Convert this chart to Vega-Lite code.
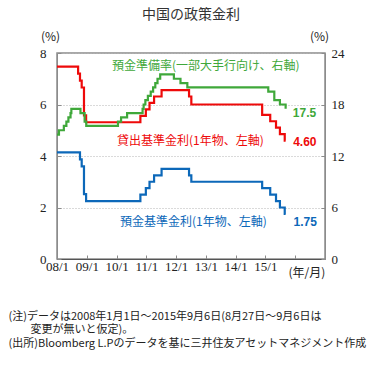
{
  "$schema": "https://vega.github.io/schema/vega-lite/v6.json",
  "width": 268,
  "height": 206,
  "autosize": {"type": "none"},
  "padding": {"left": 57, "top": 53, "right": 59, "bottom": 108},
  "background": "white",
  "title": {"text": "中国の政策金利", "font": "Noto Sans CJK JP", "fontSize": 14, "fontWeight": "normal", "color": "#333333", "anchor": "middle", "frame": "group", "offset": 8},
  "config": {"view": {"stroke": "#8c8c8c", "strokeWidth": 1.5}},
  "datasets": {
    "rates": [
      {"date": "2008/01/01", "series": "貸出基準金利", "value": 7.47},
      {"date": "2008/09/16", "series": "貸出基準金利", "value": 7.20},
      {"date": "2008/10/09", "series": "貸出基準金利", "value": 6.93},
      {"date": "2008/10/30", "series": "貸出基準金利", "value": 6.66},
      {"date": "2008/11/27", "series": "貸出基準金利", "value": 5.58},
      {"date": "2008/12/23", "series": "貸出基準金利", "value": 5.31},
      {"date": "2010/10/20", "series": "貸出基準金利", "value": 5.56},
      {"date": "2010/12/26", "series": "貸出基準金利", "value": 5.81},
      {"date": "2011/02/09", "series": "貸出基準金利", "value": 6.06},
      {"date": "2011/04/06", "series": "貸出基準金利", "value": 6.31},
      {"date": "2011/07/07", "series": "貸出基準金利", "value": 6.56},
      {"date": "2012/06/08", "series": "貸出基準金利", "value": 6.31},
      {"date": "2012/07/06", "series": "貸出基準金利", "value": 6.00},
      {"date": "2014/11/22", "series": "貸出基準金利", "value": 5.60},
      {"date": "2015/03/01", "series": "貸出基準金利", "value": 5.35},
      {"date": "2015/05/11", "series": "貸出基準金利", "value": 5.10},
      {"date": "2015/06/28", "series": "貸出基準金利", "value": 4.85},
      {"date": "2015/08/26", "series": "貸出基準金利", "value": 4.60},
      {"date": "2015/09/06", "series": "貸出基準金利", "value": 4.60},
      {"date": "2008/01/01", "series": "預金基準金利", "value": 4.14},
      {"date": "2008/10/09", "series": "預金基準金利", "value": 3.87},
      {"date": "2008/10/30", "series": "預金基準金利", "value": 3.60},
      {"date": "2008/11/27", "series": "預金基準金利", "value": 2.52},
      {"date": "2008/12/23", "series": "預金基準金利", "value": 2.25},
      {"date": "2010/10/20", "series": "預金基準金利", "value": 2.50},
      {"date": "2010/12/26", "series": "預金基準金利", "value": 2.75},
      {"date": "2011/02/09", "series": "預金基準金利", "value": 3.00},
      {"date": "2011/04/06", "series": "預金基準金利", "value": 3.25},
      {"date": "2011/07/07", "series": "預金基準金利", "value": 3.50},
      {"date": "2012/06/08", "series": "預金基準金利", "value": 3.25},
      {"date": "2012/07/06", "series": "預金基準金利", "value": 3.00},
      {"date": "2014/11/22", "series": "預金基準金利", "value": 2.75},
      {"date": "2015/03/01", "series": "預金基準金利", "value": 2.50},
      {"date": "2015/05/11", "series": "預金基準金利", "value": 2.25},
      {"date": "2015/06/28", "series": "預金基準金利", "value": 2.00},
      {"date": "2015/08/26", "series": "預金基準金利", "value": 1.75},
      {"date": "2015/09/06", "series": "預金基準金利", "value": 1.75}
    ],
    "rrr": [
      {"date": "2008/01/01", "series": "預金準備率", "value": 14.5},
      {"date": "2008/01/25", "series": "預金準備率", "value": 15.0},
      {"date": "2008/03/25", "series": "預金準備率", "value": 15.5},
      {"date": "2008/04/25", "series": "預金準備率", "value": 16.0},
      {"date": "2008/05/20", "series": "預金準備率", "value": 16.5},
      {"date": "2008/06/15", "series": "預金準備率", "value": 17.0},
      {"date": "2008/06/25", "series": "預金準備率", "value": 17.5},
      {"date": "2008/10/15", "series": "預金準備率", "value": 17.0},
      {"date": "2008/12/05", "series": "預金準備率", "value": 16.0},
      {"date": "2008/12/25", "series": "預金準備率", "value": 15.5},
      {"date": "2010/01/18", "series": "預金準備率", "value": 16.0},
      {"date": "2010/02/25", "series": "預金準備率", "value": 16.5},
      {"date": "2010/05/10", "series": "預金準備率", "value": 17.0},
      {"date": "2010/11/16", "series": "預金準備率", "value": 17.5},
      {"date": "2010/11/29", "series": "預金準備率", "value": 18.0},
      {"date": "2010/12/20", "series": "預金準備率", "value": 18.5},
      {"date": "2011/01/20", "series": "預金準備率", "value": 19.0},
      {"date": "2011/02/24", "series": "預金準備率", "value": 19.5},
      {"date": "2011/03/25", "series": "預金準備率", "value": 20.0},
      {"date": "2011/04/21", "series": "預金準備率", "value": 20.5},
      {"date": "2011/05/18", "series": "預金準備率", "value": 21.0},
      {"date": "2011/06/20", "series": "預金準備率", "value": 21.5},
      {"date": "2011/12/05", "series": "預金準備率", "value": 21.0},
      {"date": "2012/02/24", "series": "預金準備率", "value": 20.5},
      {"date": "2012/05/18", "series": "預金準備率", "value": 20.0},
      {"date": "2015/02/05", "series": "預金準備率", "value": 19.5},
      {"date": "2015/04/20", "series": "預金準備率", "value": 18.5},
      {"date": "2015/06/28", "series": "預金準備率", "value": 18.0},
      {"date": "2015/09/06", "series": "預金準備率", "value": 17.5}
    ],
    "labels": [
      {"date": "2010/01/06", "value": 4.6, "label": "貸出基準金利(1年物、左軸)", "series": "貸出基準金利", "kind": "name", "axis": "left"},
      {"date": "2015/12/07", "value": 4.53, "label": "4.60", "series": "貸出基準金利", "kind": "value", "axis": "left"},
      {"date": "2010/02/12", "value": 1.45, "label": "預金基準金利(1年物、左軸)", "series": "預金基準金利", "kind": "name", "axis": "left"},
      {"date": "2015/12/11", "value": 1.45, "label": "1.75", "series": "預金基準金利", "kind": "value", "axis": "left"},
      {"date": "2009/11/06", "value": 22.5, "label": "預金準備率(一部大手行向け、右軸)", "series": "預金準備率", "kind": "name", "axis": "right"},
      {"date": "2015/12/03", "value": 16.96, "label": "17.5", "series": "預金準備率", "kind": "value", "axis": "right"},
      {"date": "2016/05/24", "value": -0.53, "label": "(年/月)", "series": "unit", "kind": "unit", "axis": "left"}
    ]
  },
  "encoding": {
    "x": {
      "field": "date",
      "type": "temporal",
      "scale": {"domain": [{"year": 2008, "month": 1, "date": 1}, {"year": 2017, "month": 1, "date": 1}]},
      "axis": {
        "values": [
          {"year": 2008, "month": 1, "date": 1}, {"year": 2009, "month": 1, "date": 1}, {"year": 2010, "month": 1, "date": 1},
          {"year": 2011, "month": 1, "date": 1}, {"year": 2012, "month": 1, "date": 1}, {"year": 2013, "month": 1, "date": 1},
          {"year": 2014, "month": 1, "date": 1}, {"year": 2015, "month": 1, "date": 1}, {"year": 2016, "month": 1, "date": 1}
        ],
        "labelExpr": "year(datum.value) < 2016 ? timeFormat(datum.value, '%y/%-m') : ''",
        "labelFont": "Liberation Sans Narrow",
        "labelFontSize": 13,
        "labelColor": "#222222",
        "labelPadding": 5,
        "labelFlush": false,
        "labelOverlap": false,
        "grid": false,
        "domainColor": "#555555",
        "tickColor": "#8c8c8c",
        "tickSize": -4,
        "title": ["(注)データは2008年1月1日～2015年9月6日(8月27日～9月6日は", "\u200b\u3000\u3000変更が無いと仮定)。", "(出所)Bloomberg L.Pのデータを基に三井住友アセットマネジメント作成"],
        "titleFont": "Noto Sans CJK JP",
        "titleFontSize": 11,
        "titleFontWeight": "normal",
        "titleColor": "#222222",
        "titleAngle": 0,
        "titleAlign": "left",
        "titleBaseline": "top",
        "titleX": -49,
        "titleY": 51,
        "titleLineHeight": 13.5
      }
    },
    "color": {
      "field": "series",
      "type": "nominal",
      "scale": {"domain": ["預金準備率", "貸出基準金利", "預金基準金利", "unit"], "range": ["#3fa83a", "#ee0a0a", "#0c68b9", "#222222"]},
      "legend": null
    }
  },
  "layer": [
    {
      "encoding": {
        "y": {
          "field": "value",
          "type": "quantitative",
          "scale": {"domain": [0, 8]},
          "axis": {
            "orient": "left",
            "values": [0, 2, 4, 6, 8],
            "grid": true,
            "gridColor": "#b4b4b4",
            "gridDash": [1, 2],
            "domainColor": "#8c8c8c",
            "tickColor": "#8c8c8c",
            "tickSize": -4,
            "labelFont": "Liberation Sans Narrow",
            "labelFontSize": 13,
            "labelColor": "#222222",
            "labelPadding": 15,
            "title": "(%)",
            "titleFont": "Noto Sans CJK JP",
            "titleFontSize": 12,
            "titleFontWeight": "normal",
            "titleColor": "#222222",
            "titleAngle": 0,
            "titleAlign": "center",
            "titleBaseline": "middle",
            "titleX": -7,
            "titleY": -17
          }
        }
      },
      "layer": [
        {
          "data": {"name": "rates"},
          "mark": {"type": "line", "interpolate": "step-after", "strokeWidth": 2.2}
        },
        {
          "data": {"name": "labels"},
          "transform": [{"filter": "datum.axis === 'left' && datum.kind === 'name'"}],
          "mark": {"type": "text", "align": "left", "baseline": "middle", "font": "Noto Sans CJK JP", "fontSize": 12},
          "encoding": {"text": {"field": "label"}}
        },
        {
          "data": {"name": "labels"},
          "transform": [{"filter": "datum.axis === 'left' && datum.kind === 'value'"}],
          "mark": {"type": "text", "align": "left", "baseline": "middle", "font": "Liberation Sans", "fontSize": 12, "fontWeight": "bold"},
          "encoding": {"text": {"field": "label"}}
        },
        {
          "data": {"name": "labels"},
          "transform": [{"filter": "datum.kind === 'unit'"}],
          "mark": {"type": "text", "align": "center", "baseline": "middle", "font": "Noto Sans CJK JP", "fontSize": 12},
          "encoding": {"text": {"field": "label"}}
        }
      ]
    },
    {
      "encoding": {
        "y": {
          "field": "value",
          "type": "quantitative",
          "scale": {"domain": [0, 24]},
          "axis": {
            "orient": "right",
            "values": [0, 6, 12, 18, 24],
            "grid": false,
            "domainColor": "#8c8c8c",
            "tickColor": "#8c8c8c",
            "tickSize": -4,
            "labelFont": "Liberation Sans Narrow",
            "labelFontSize": 13,
            "labelColor": "#222222",
            "labelPadding": 10,
            "title": "(%)",
            "titleFont": "Noto Sans CJK JP",
            "titleFontSize": 12,
            "titleFontWeight": "normal",
            "titleColor": "#222222",
            "titleAngle": 0,
            "titleAlign": "center",
            "titleBaseline": "middle",
            "titleX": -6,
            "titleY": -17
          }
        }
      },
      "layer": [
        {
          "data": {"name": "rrr"},
          "mark": {"type": "line", "interpolate": "step-after", "strokeWidth": 2.2}
        },
        {
          "data": {"name": "labels"},
          "transform": [{"filter": "datum.axis === 'right' && datum.kind === 'name'"}],
          "mark": {"type": "text", "align": "left", "baseline": "middle", "font": "Noto Sans CJK JP", "fontSize": 12},
          "encoding": {"text": {"field": "label"}}
        },
        {
          "data": {"name": "labels"},
          "transform": [{"filter": "datum.axis === 'right' && datum.kind === 'value'"}],
          "mark": {"type": "text", "align": "left", "baseline": "middle", "font": "Liberation Sans", "fontSize": 12, "fontWeight": "bold"},
          "encoding": {"text": {"field": "label"}}
        }
      ]
    }
  ],
  "resolve": {"scale": {"y": "independent"}}
}
